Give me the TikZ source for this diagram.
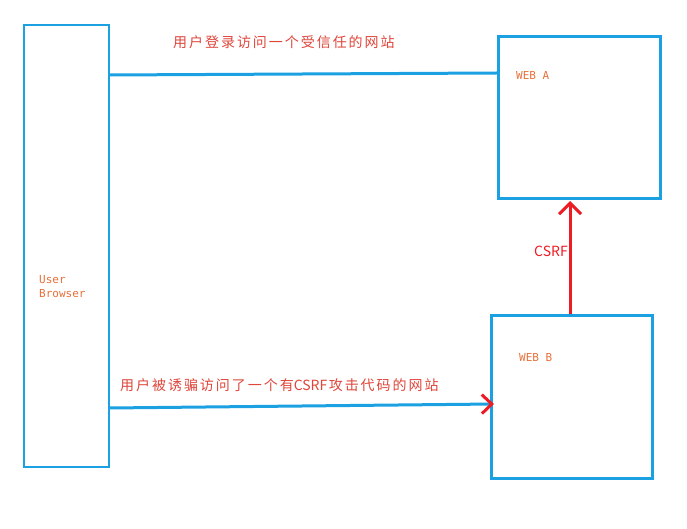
\documentclass[tikz,border=0pt]{standalone}
\usepackage{fontspec}
\newfontfamily\cjk[LetterSpace=14]{Noto Sans CJK SC}
\newfontfamily\cjkplain{Noto Sans CJK SC}
\newfontfamily\monof{DejaVu Sans Mono}
\usetikzlibrary{arrows.meta}
\definecolor{boxblue}{HTML}{1BA1E2}
\definecolor{arrred}{HTML}{ED1C24}
\definecolor{txtred}{HTML}{E0453A}
\definecolor{lblorange}{HTML}{E8703A}
\tikzset{
  site/.style={draw=boxblue, line width=3pt, inner sep=0pt},
  client/.style={draw=boxblue, line width=2pt, inner sep=0pt},
  link/.style={draw=boxblue, line width=3pt},
  attack/.style={draw=arrred, line width=3pt, -{Straight Barb[length=11pt,width=22pt,line width=3pt]}},
  linkarrow/.style={link, -{Straight Barb[color=arrred,length=10pt,width=19pt,line width=3pt]}},
  cntext/.style={text=txtred, font=\cjk\fontsize{14}{16}\selectfont, inner sep=0pt},
  lbl/.style={text=lblorange, font=\monof\fontsize{11}{14}\selectfont, inner sep=0pt, align=left},
}
\begin{document}
\begin{tikzpicture}[x=1pt,y=-1pt]
\useasboundingbox (0,0) rectangle (687,529);
\fill[white] (0,0) rectangle (687,529);
% boxes
\draw[client] (24,25) rectangle (109,467);
\draw[site] (498,37) rectangle (660,199);
\draw[site] (491,315) rectangle (652,478);
% labels
\node[lbl, anchor=west] (ublbl) at (39,286.5) {User\\Browser};
\node[lbl, anchor=west] (walbl) at (516,75) {WEB A};
\node[lbl, anchor=west] (wblbl) at (519,357) {WEB B};
% connectors
\coordinate (l1s) at (109,75);
\coordinate (l1e) at (497,73);
\draw[link] (l1s) -- (l1e);
\coordinate (l2s) at (109,408);
\coordinate (l2e) at (494,404);
\draw[linkarrow] (l2s) -- (l2e);
\coordinate (csrfs) at (570,314);
\coordinate (csrfe) at (570,201);
\draw[attack] (csrfs) -- (csrfe);
% texts
\node[cntext, anchor=west] (t1) at (173,42) {用户登录访问一个受信任的网站};
\node[cntext, anchor=west] (t2) at (120,385) {用户被诱骗访问了一个有{\cjkplain CSRF}\hspace{1.5pt}攻击代码的网站};
\node[text=arrred, font=\cjkplain\fontsize{14}{16}\selectfont, inner sep=0pt, anchor=west] (csrf) at (534,251) {CSRF};
\end{tikzpicture}
\end{document}
